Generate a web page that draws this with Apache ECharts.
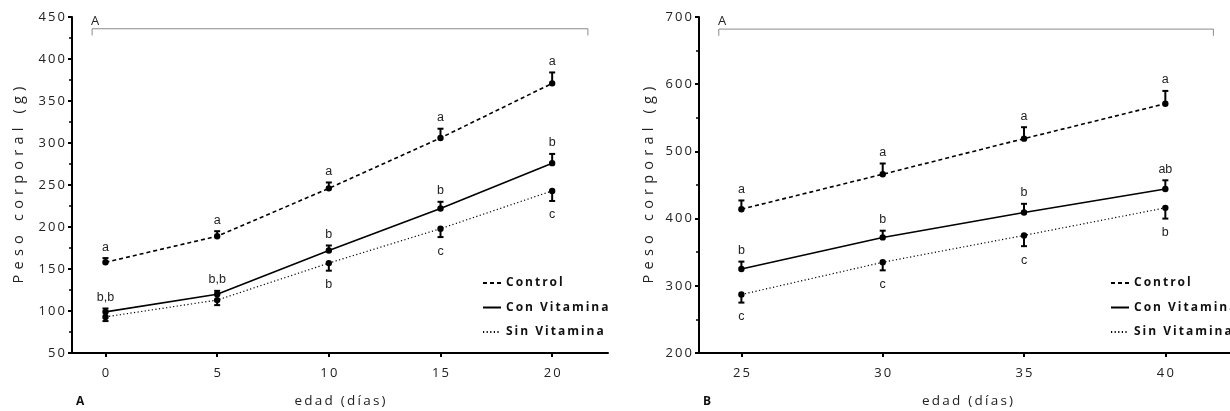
<!DOCTYPE html>
<html><head><meta charset="utf-8">
<script src="https://cdn.jsdelivr.net/npm/echarts@6/dist/echarts.min.js"></script>
<style>html,body{margin:0;padding:0;background:#fff}#c{width:1230px;height:411px}</style>
</head><body><div id="c"></div>
<script>
// ---- data (panel A) ----
const edadA = [0, 5, 10, 15, 20];
const controlA = [158, 189, 246, 306, 371];
const controlAErr = [5, 6, 7, 11, 13];
const conVitA = [99, 120, 172, 222, 276];
const conVitAErr = [4, 4, 6, 8, 11];
const sinVitA = [93, 113, 157, 198, 243];
const sinVitAErr = [5, 6, 9, 10, 12];
const controlALab = ['a', 'a', 'a', 'a', 'a'];
const conVitALab = ['b,b', 'b,b', 'b', 'b', 'b'];
const sinVitALab = ['', '', 'b', 'c', 'c'];
const xTicksA = [0, 5, 10, 15, 20];

// ---- data (panel B) ----
const edadB = [25, 30, 35, 40];
const controlB = [414, 466, 519, 571];
const controlBErr = [13, 16, 17, 19];
const conVitB = [325, 372, 409, 444];
const conVitBErr = [11, 10, 13, 13];
const sinVitB = [287, 335, 375, 416];
const sinVitBErr = [12, 12, 16, 16];
const controlBLab = ['a', 'a', 'a', 'a'];
const conVitBLab = ['b', 'b', 'b', 'ab'];
const sinVitBLab = ['c', 'c', 'c', 'b'];
const xTicksB = [25, 30, 35, 40];

const seriesNames = ['Control', 'Con Vitamina', 'Sin Vitamina'];
const bracketA = [[-0.6, 428], [-0.6, 436], [21.6, 436], [21.6, 428]];
const bracketB = [[24.2, 672], [24.2, 682], [41.7, 682], [41.7, 672]];

const sp = (s, sep) => String(s).split('').join(sep || '\u2009');
const zip = (xs, ys) => xs.map((x, i) => [x, ys[i]]);
const zip3 = (xs, ys, es) => xs.map((x, i) => [x, ys[i], es[i]]);

const TXT = '#222';
const styles = {
  'Control': { type: [4, 3], width: 1.6 },
  'Con Vitamina': { type: 'solid', width: 1.6 },
  'Sin Vitamina': { type: [1.2, 2.4], width: 1.2 }
};

function errSeries(name, gi, xs, ys, es, labs, dir) {
  return {
    type: 'custom', name: name + ' err', xAxisIndex: gi, yAxisIndex: gi, z: 5, silent: true,
    data: zip3(xs, ys, es),
    renderItem: function (params, api) {
      const x = api.value(0), y = api.value(1), e = api.value(2);
      const p = api.coord([x, y]);
      const t = api.coord([x, y + dir * e]);
      const lab = labs[params.dataIndex];
      const children = [
        { type: 'line', shape: { x1: p[0], y1: p[1], x2: t[0], y2: t[1] }, style: { stroke: '#000', lineWidth: 2 } },
        { type: 'line', shape: { x1: t[0] - 3, y1: t[1], x2: t[0] + 3, y2: t[1] }, style: { stroke: '#000', lineWidth: 2 } },
        { type: 'circle', shape: { cx: p[0], cy: p[1], r: 3.2 }, style: { fill: '#000' } }
      ];
      if (lab) {
        children.push({ type: 'text', x: t[0], y: t[1] - (dir > 0 ? 11 : -14),
          style: { text: lab, fill: TXT, font: '12.5px "Liberation Sans", Arial, sans-serif', align: 'center', verticalAlign: 'middle' } });
      }
      return { type: 'group', children: children };
    }
  };
}

function lineSeries(name, gi, xs, ys) {
  return {
    type: 'line', name: name, xAxisIndex: gi, yAxisIndex: gi, z: 3, silent: true,
    symbol: 'none', data: zip(xs, ys),
    itemStyle: { color: '#000' },
    lineStyle: { color: '#000', type: styles[name].type, width: styles[name].width }
  };
}

function bracket(gi, pts) {
  return {
    type: 'line', xAxisIndex: gi, yAxisIndex: gi, symbol: 'none', silent: true, z: 2,
    data: pts, lineStyle: { color: '#8a8a8a', width: 1, type: 'solid' }
  };
}

const axisFont = { fontFamily: '"Open Sans", sans-serif', fontSize: 13, color: TXT };

function xAxis(gi, min, max, ticks) {
  return {
    type: 'value', gridIndex: gi, min: min, max: max,
    splitLine: { show: false },
    axisLine: { onZero: false, lineStyle: { color: '#000', width: 2 } },
    axisTick: { customValues: ticks, length: 4, lineStyle: { color: '#000', width: 2 } },
    axisLabel: Object.assign({ customValues: ticks, margin: 14, formatter: v => sp(v) }, axisFont),
    name: sp('edad (días)'), nameLocation: 'middle', nameGap: 41,
    nameTextStyle: { fontFamily: '"Open Sans", sans-serif', fontSize: 13.5, color: TXT }
  };
}
function yAxis(gi, min, max, interval, gap) {
  return {
    type: 'value', gridIndex: gi, min: min, max: max, interval: interval,
    splitLine: { show: false },
    axisLine: { show: true, onZero: false, lineStyle: { color: '#000', width: 2 } },
    axisTick: { show: true, length: 4, lineStyle: { color: '#000', width: 2 } },
    minorTick: { show: true, splitNumber: 2, length: 3, lineStyle: { color: '#000', width: 1.5 } },
    axisLabel: Object.assign({ margin: 7, formatter: v => sp(v) }, axisFont),
    name: sp('Peso corporal (g)', ' \u200A'), nameLocation: 'middle', nameGap: gap, nameRotate: 90,
    nameTextStyle: { fontFamily: '"Open Sans", sans-serif', fontSize: 14.5, color: TXT }
  };
}

function legend(left) {
  return {
    orient: 'vertical', left: left, top: 277, padding: 0, itemWidth: 18, itemHeight: 10, itemGap: 12.5,
    data: seriesNames, selectedMode: false,
    itemStyle: { opacity: 0 },
    formatter: n => sp(n),
    textStyle: { fontFamily: '"Open Sans", sans-serif', fontWeight: 'bold', fontSize: 12, color: '#111' }
  };
}

const chart = echarts.init(document.getElementById('c'), null, { renderer: 'canvas' });
chart.setOption({
  animation: false,
  backgroundColor: '#fff',
  grid: [
    { left: 72, top: 17, width: 536, bottom: 58, outerBoundsMode: 'none', containLabel: false },
    { left: 699, top: 17, right: -6, bottom: 58, outerBoundsMode: 'none', containLabel: false }
  ],
  xAxis: [xAxis(0, -1.5, 22.5, xTicksA), xAxis(1, 23.5, 42.5, xTicksB)],
  yAxis: [yAxis(0, 50, 450, 50, 46), yAxis(1, 200, 700, 100, 43)],
  legend: [legend(482), legend(1110)],
  graphic: [
    { type: 'text', left: 91, top: 15, style: { text: 'A', fill: TXT, font: '13px "Open Sans", sans-serif' } },
    { type: 'text', left: 718, top: 15, style: { text: 'A', fill: TXT, font: '13px "Open Sans", sans-serif' } },
    { type: 'text', left: 76, top: 396, style: { text: 'A', fill: '#111', font: 'bold 12px "Open Sans", sans-serif' } },
    { type: 'text', left: 703, top: 396, style: { text: 'B', fill: '#111', font: 'bold 12px "Open Sans", sans-serif' } }
  ],
  series: [
    bracket(0, bracketA), bracket(1, bracketB),
    lineSeries('Control', 0, edadA, controlA),
    lineSeries('Con Vitamina', 0, edadA, conVitA),
    lineSeries('Sin Vitamina', 0, edadA, sinVitA),
    lineSeries('Control', 1, edadB, controlB),
    lineSeries('Con Vitamina', 1, edadB, conVitB),
    lineSeries('Sin Vitamina', 1, edadB, sinVitB),
    errSeries('Control', 0, edadA, controlA, controlAErr, controlALab, 1),
    errSeries('Con Vitamina', 0, edadA, conVitA, conVitAErr, conVitALab, 1),
    errSeries('Sin Vitamina', 0, edadA, sinVitA, sinVitAErr, sinVitALab, -1),
    errSeries('Control', 1, edadB, controlB, controlBErr, controlBLab, 1),
    errSeries('Con Vitamina', 1, edadB, conVitB, conVitBErr, conVitBLab, 1),
    errSeries('Sin Vitamina', 1, edadB, sinVitB, sinVitBErr, sinVitBLab, -1)
  ]
});
</script></body></html>
